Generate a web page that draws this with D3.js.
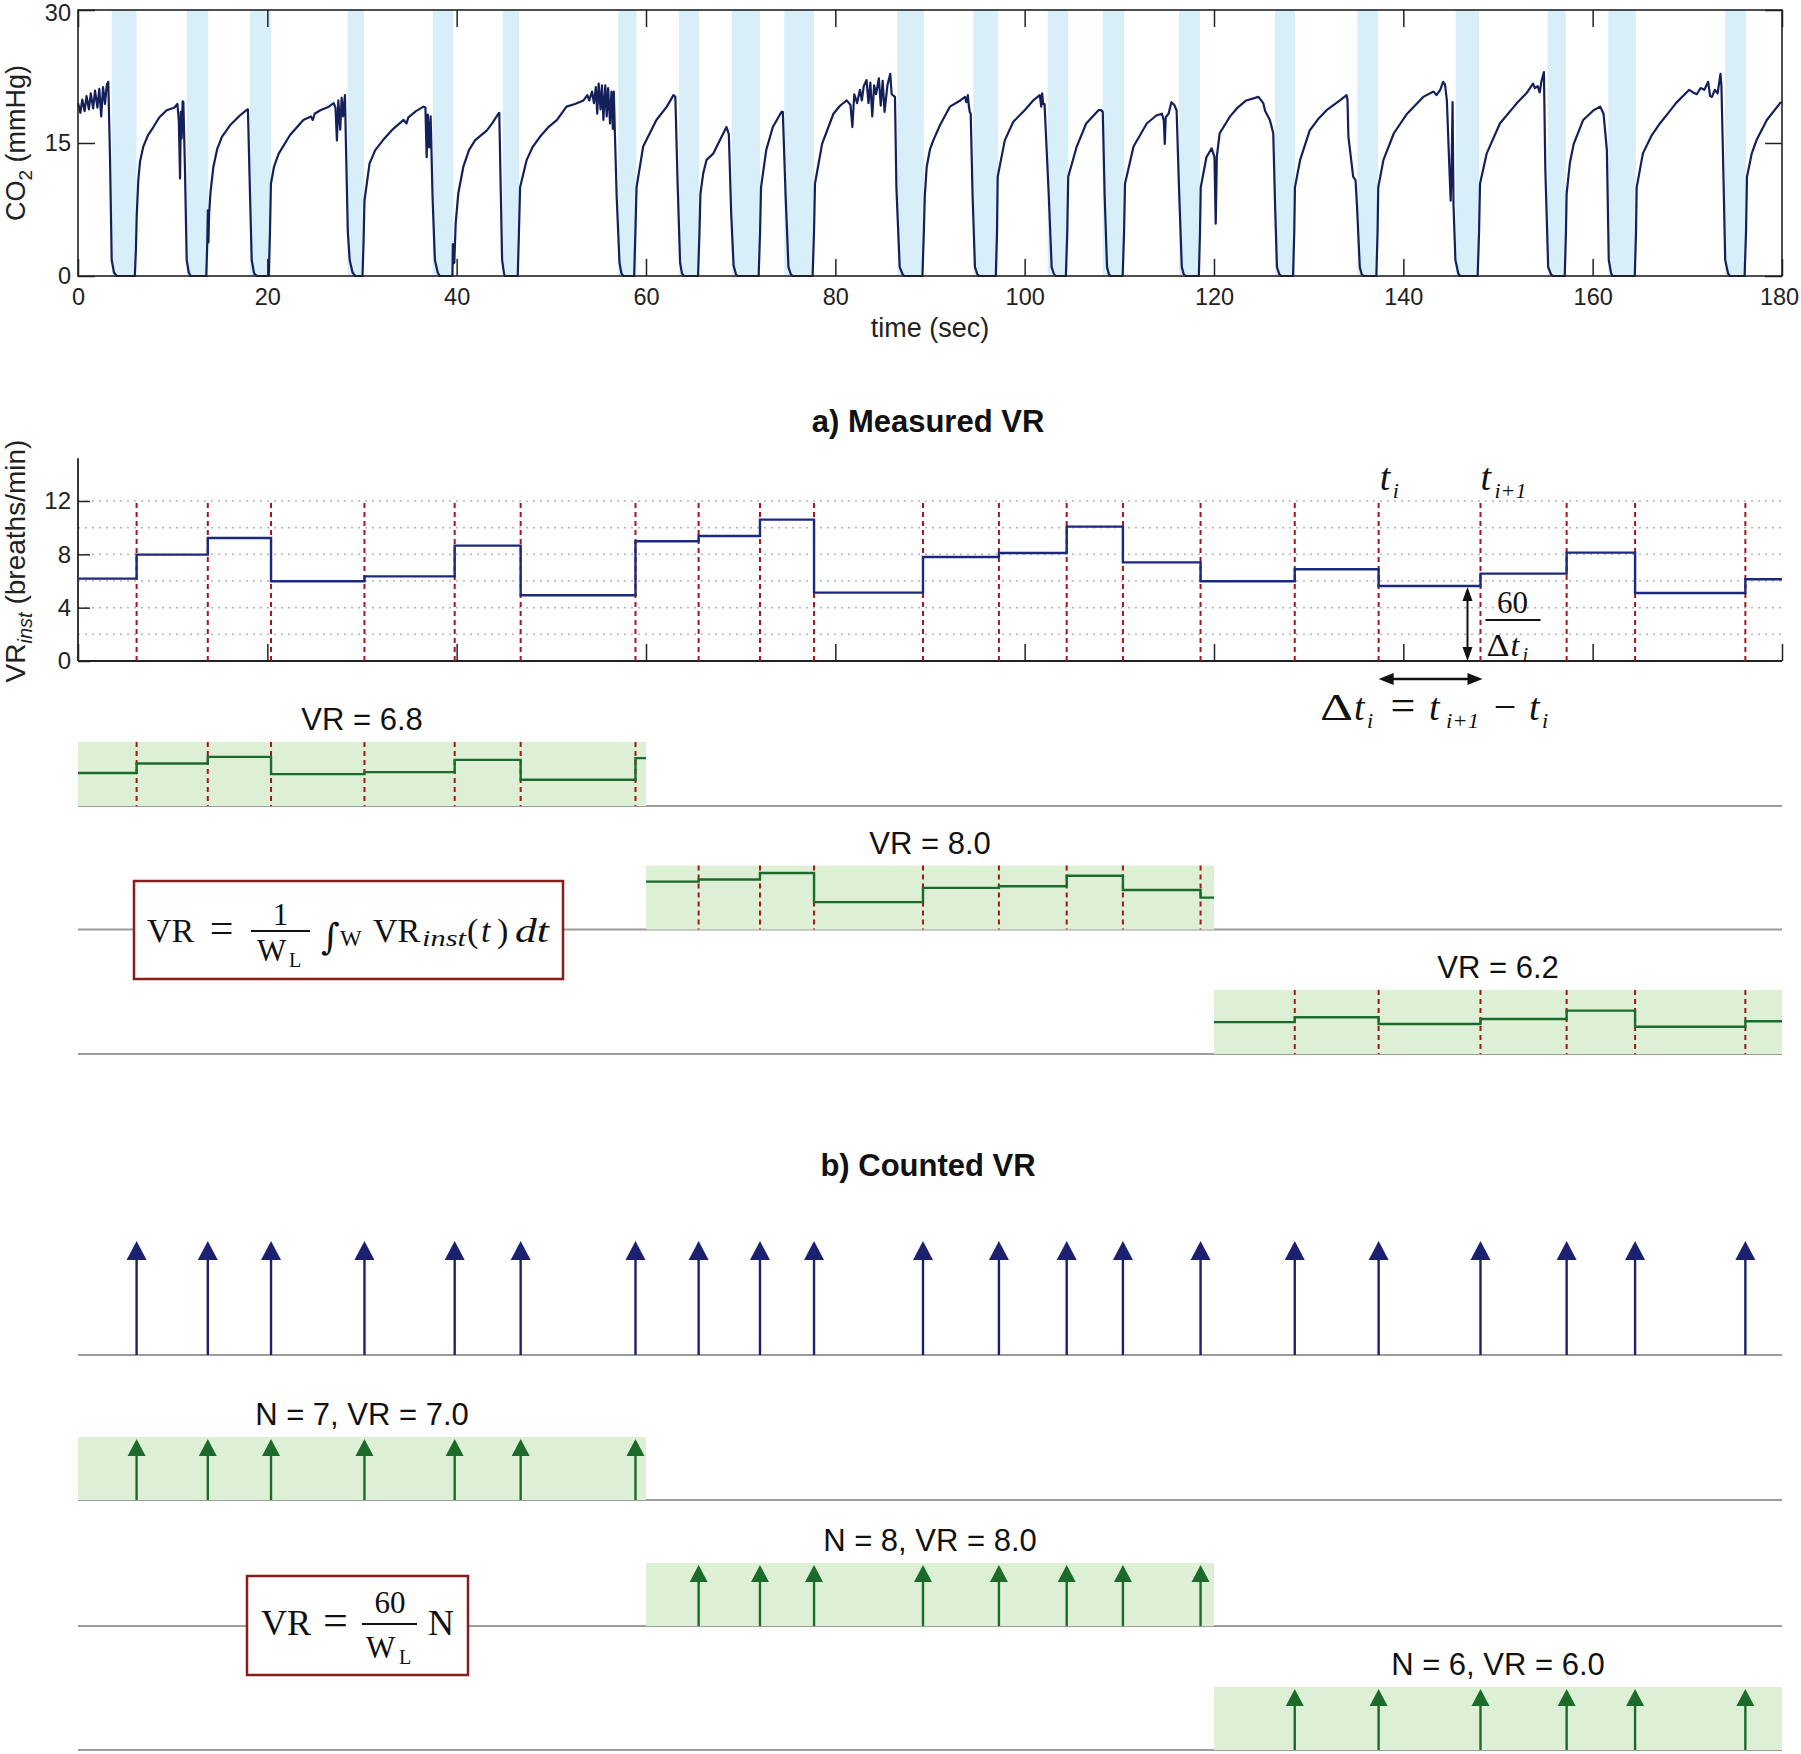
<!DOCTYPE html>
<html>
<head>
<meta charset="utf-8">
<script src="https://cdn.jsdelivr.net/npm/d3@7"></script>
<style>
  body { margin: 0; background: #fff; }
  text { font-family: "Liberation Sans", Arial, sans-serif; }
</style>
</head>
<body>
<svg id="chart"></svg>
<script>
"use strict";

// ---- data ----
var timeTicks = [0, 20, 40, 60, 80, 100, 120, 140, 160, 180];
var co2Ticks = [0, 15, 30];
var vrTicks = [0, 4, 8, 12];
var vrGrid = [2, 4, 6, 8, 10, 12];

// shaded inspiration intervals (sec)
var inspStart = [3.56, 11.48, 18.17, 28.48, 37.46, 44.86, 57.07, 63.48, 69.05, 74.61, 86.54,
                 94.57, 102.43, 108.24, 116.3, 126.44, 135.14, 145.52, 155.24, 161.65, 173.98];
var inspEnd = [6.2, 13.77, 20.39, 30.21, 39.65, 46.6, 59.0, 65.63, 72.04, 77.74, 89.36,
               97.21, 104.61, 110.52, 118.52, 128.55, 137.33, 148.02, 157.17, 164.57, 176.2];

// detected breath onsets (sec)
var breathTimes = [6.19, 13.71, 20.39, 30.26, 39.79, 46.76, 58.89, 65.56, 72.04, 77.75, 89.26,
                   97.28, 104.44, 110.38, 118.58, 128.53, 137.39, 148.15, 157.25, 164.48, 176.13];

// instantaneous VR level held from each onset (first value from t = 0)
var vrLevels = [6.18, 7.98, 9.22, 5.98, 6.35, 8.65, 4.93, 8.98, 9.38, 10.6, 5.13,
                7.8, 8.1, 10.08, 7.4, 5.98, 6.88, 5.63, 6.55, 8.13, 5.1, 6.13];

var windows = [[0, 60], [60, 120], [120, 180]];
var measuredLabels = ["VR = 6.8", "VR = 8.0", "VR = 6.2"];
var countedLabels = ["N = 7, VR = 7.0", "N = 8, VR = 8.0", "N = 6, VR = 6.0"];

// capnogram trace [time sec, CO2 mmHg]
var co2Trace = [
  [0,19.5],[0.25,18.4],[0.45,19.9],[0.7,18.6],[0.9,20.3],[1.15,18.8],[1.35,20.6],[1.6,18.9],[1.8,20.9],[2.05,19.0],
  [2.25,21.1],[2.45,18.0],[2.65,21.3],[2.85,19.4],[3.05,21.6],[3.2,21.9],[3.38,13.4],[3.56,1.8],[3.8,0.4],[4.1,0],
  [6.0,0],[6.12,3.0],[6.2,6.7],[6.37,10.8],[6.55,12.9],[6.9,14.6],[7.4,15.9],[7.96,16.8],[8.6,17.9],[9.37,18.7],
  [10.2,19.0],[10.5,19.4],[10.65,17.5],[10.78,11.0],[10.86,18.5],[10.95,15.5],[11.05,19.7],[11.13,19.6],[11.3,12.0],
  [11.48,1.8],[11.7,0.4],[11.9,0],
  [13.55,0],[13.65,3.6],[13.72,7.4],[13.78,3.8],[13.85,7.0],[14.0,9.5],[14.3,12.3],[14.7,14.3],[15.2,15.7],[16.06,17.0],
  [17.1,18.1],[17.8,18.7],[17.95,18.8],[18.15,10.0],[18.35,1.8],[18.6,0.3],[18.9,0],
  [20.15,0],[20.28,5.0],[20.38,10.4],[20.7,12.3],[21.2,13.8],[22.4,15.9],[23.8,17.6],[24.6,18.0],[24.8,17.6],[25.0,18.3],
  [25.6,18.7],[26.5,19.1],[27.0,19.5],[27.2,19.0],[27.35,15.3],[27.5,19.8],[27.7,16.5],[27.85,20.1],[28.0,18.0],
  [28.2,20.4],[28.3,15.0],[28.5,5.0],[28.7,1.8],[29.0,0.4],[29.3,0],
  [30.05,0],[30.17,4.0],[30.26,8.5],[30.8,12.7],[31.4,14.2],[32.2,15.3],[33.3,16.6],[34.4,17.6],[34.7,17.2],[34.9,17.9],
  [35.7,18.6],[36.5,19.1],[36.7,19.0],[36.83,13.4],[36.95,18.2],[37.1,14.5],[37.25,18.0],[37.45,9.0],[37.7,1.8],
  [38.0,0.4],[38.2,0],
  [39.55,0],[39.6,3.6],[39.65,1.4],[39.7,3.2],[39.75,1.5],[39.9,6.0],[40.17,9.3],[40.7,12.3],[41.3,14.2],[41.94,15.3],
  [42.5,15.8],[43.17,16.4],[43.8,17.3],[44.4,18.3],[44.5,18.4],[44.65,10.0],[44.8,1.8],[45.0,0.3],[45.1,0],
  [46.45,0],[46.58,5.0],[46.7,10.0],[47.4,13.1],[48.0,14.5],[48.8,15.7],[49.7,16.8],[50.6,17.6],[51.6,19.1],[52.5,19.4],
  [53.4,19.8],[53.8,20.4],[54.0,19.8],[54.3,20.8],[54.5,19.5],[54.7,21.3],[54.85,18.3],[55.0,21.7],[55.2,18.8],
  [55.35,21.5],[55.5,17.6],[55.7,21.5],[55.85,18.0],[56.0,21.2],[56.2,17.2],[56.35,20.8],[56.5,16.6],[56.6,20.8],
  [56.7,16.6],[56.9,9.0],[57.2,1.5],[57.4,0.3],[57.6,0],
  [58.75,0],[58.88,5.0],[59.0,10.0],[59.7,14.6],[60.4,16.1],[61.1,17.6],[62.2,19.1],[62.9,20.4],[63.1,20.2],
  [63.35,10.0],[63.6,1.5],[63.8,0.3],[64.0,0],
  [65.5,0],[65.65,5.0],[65.75,9.3],[66.05,11.6],[66.4,13.1],[67.1,13.8],[67.8,15.3],[68.5,16.8],[68.75,16.0],
  [69.0,7.0],[69.25,1.2],[69.5,0.2],[69.7,0],
  [71.9,0],[72.05,5.0],[72.15,10.0],[72.7,14.2],[73.4,16.8],[74.3,18.5],[74.45,18.5],[74.75,9.0],[75.05,1.0],
  [75.3,0.2],[75.5,0],
  [77.6,0],[77.75,5.0],[77.85,10.4],[78.6,14.9],[79.8,18.3],[80.5,19.2],[81.2,19.8],[81.6,19.3],[81.8,16.8],[82.0,20.5],
  [82.3,19.5],[82.6,21.0],[82.8,19.8],[83.0,21.4],[83.3,22.1],[83.5,19.5],[83.7,21.8],[83.9,18.0],[84.1,21.5],
  [84.3,20.5],[84.6,22.3],[84.8,19.2],[85.0,22.0],[85.2,18.5],[85.5,21.5],[85.8,22.8],[85.95,20.5],[86.3,20.2],
  [86.45,10.0],[86.8,1.0],[87.1,0.2],[87.3,0],
  [89.2,0],[89.35,5.0],[89.45,9.0],[89.65,12.3],[90.0,14.3],[90.35,15.3],[91.05,17.0],[92.1,19.1],[93.2,19.8],
  [93.7,20.2],[93.85,19.6],[94.0,20.4],[94.1,19.2],[94.2,18.5],[94.3,18.3],[94.5,9.0],[94.75,1.0],[95.0,0.2],[95.2,0],
  [96.95,0],[97.08,5.0],[97.15,11.2],[97.9,15.3],[98.8,17.4],[100.0,18.7],[100.9,19.8],[101.6,20.4],[101.75,19.1],
  [101.85,20.6],[101.95,19.4],[102.1,19.4],[102.55,9.0],[102.85,1.0],[103.1,0.2],[103.3,0],
  [104.35,0],[104.5,5.0],[104.6,11.2],[105.5,14.6],[106.5,17.2],[107.8,18.7],[108.1,18.7],[108.25,18.5],[108.45,9.0],
  [108.7,1.0],[108.9,0.2],[109.1,0],
  [110.35,0],[110.5,5.0],[110.6,10.4],[111.5,14.6],[112.9,17.2],[113.9,18.1],[114.5,18.3],[114.7,17.5],[114.8,14.9],
  [114.9,17.9],[115.2,18.3],[115.5,19.6],[115.8,19.3],[116.05,18.7],[116.3,10.0],[116.6,1.0],[116.8,0.2],[117.0,0],
  [118.4,0],[118.52,5.0],[118.6,10.0],[119.2,13.4],[119.75,14.4],[120.05,13.4],[120.18,5.9],[120.3,13.5],[120.6,16.1],
  [121.7,18.0],[122.5,19.0],[123.4,19.8],[124.7,20.2],[125.2,19.5],[125.4,18.6],[125.56,18.3],[125.9,17.6],
  [126.26,16.1],[126.45,8.0],[126.65,1.0],[126.9,0.2],[127.1,0],
  [128.35,0],[128.48,5.0],[128.55,10.0],[129.1,13.1],[130.1,16.4],[131.0,17.7],[131.9,18.7],[133.3,19.8],[134.0,20.4],
  [134.1,19.9],[134.2,15.7],[134.5,13.0],[134.7,11.2],[134.95,10.8],[135.1,8.0],[135.4,1.0],[135.6,0.2],[135.8,0],
  [137.15,0],[137.28,5.0],[137.35,10.0],[137.9,13.1],[139.0,16.1],[140.4,18.3],[142.1,20.2],[143.2,20.8],[143.5,20.4],
  [143.9,21.0],[144.2,21.9],[144.4,21.6],[144.6,19.8],[144.8,14.0],[145.0,8.5],[145.1,12.0],[145.2,19.6],[145.3,8.0],
  [145.5,1.8],[145.8,0.3],[146.0,0],
  [147.85,0],[148.0,5.0],[148.1,10.4],[148.8,13.8],[150.2,17.2],[152.0,19.5],[153.0,20.6],[153.7,21.7],[153.9,21.2],
  [154.2,21.4],[154.4,20.7],[154.6,22.0],[154.85,23.0],[155.0,12.0],[155.3,1.0],[155.6,0.2],[155.8,0],
  [157.05,0],[157.18,5.0],[157.25,9.3],[157.6,12.8],[158.0,14.9],[159.0,17.6],[160.1,18.7],[160.8,19.1],[161.15,18.3],
  [161.5,14.2],[161.7,1.8],[161.95,0.3],[162.1,0],
  [164.45,0],[164.58,5.0],[164.65,10.0],[165.3,13.8],[166.2,15.8],[167.1,17.2],[168.0,18.4],[168.8,19.5],[170.2,21.0],
  [170.6,20.7],[171.0,20.5],[171.4,21.2],[171.8,21.0],[172.2,21.9],[172.4,20.3],[172.6,20.2],[172.9,21.0],[173.2,20.6],
  [173.5,22.8],[173.6,21.5],[173.8,12.0],[174.0,1.8],[174.3,0.3],[174.5,0],
  [176.05,0],[176.2,5.0],[176.3,11.2],[176.8,13.8],[177.3,15.3],[178.4,17.6],[179.8,19.5],[180,19.6]
];

// ---- colours ----
var navy = "#14205a";
var stepBlue = "#1c2a7e";
var arrowNavy = "#1b2170";
var red = "#a3161c";
var bandBlue = "#d8effa";
var bandGreen = "#ddf0d6";
var green = "#1c6b2b";
var grey = "#9c9c9c";
var boxRed = "#8b1c1c";
var serifFont = "'Liberation Serif','DejaVu Serif',serif";

var width = 1801, height = 1754;
var svg = d3.select("#chart").attr("width", width).attr("height", height);

var x = d3.scaleLinear().domain([0, 180]).range([78, 1782]);

function levelAt(t) {
    var idx = d3.bisectRight(breathTimes, t);
    return vrLevels[idx];
}

function styleAxis(g, size) {
    g.select(".domain").remove();
    g.selectAll(".tick line").attr("stroke", "#222").attr("stroke-width", 1.5);
    g.selectAll(".tick text").attr("font-size", size).attr("fill", "#222")
        .attr("font-family", "'Liberation Sans', Arial, sans-serif");
}

// one piece of serif maths text
function piece(g, str, px, py, size, opts) {
    opts = opts || {};
    var t = g.append("text")
        .attr("x", px).attr("y", py)
        .attr("font-size", size).attr("fill", "#111")
        .style("font-family", opts.font || serifFont)
        .text(str);
    if (opts.italic) t.attr("font-style", "italic");
    if (opts.anchor) t.attr("text-anchor", opts.anchor);
    if (opts.len) t.attr("textLength", opts.len).attr("lengthAdjust", "spacingAndGlyphs");
    return t;
}

// =========== top: capnogram ===========
var yCO2 = d3.scaleLinear().domain([0, 30]).range([276, 10]);
var topG = svg.append("g");

topG.selectAll("rect.insp")
    .data(d3.zip(inspStart, inspEnd))
    .join("rect")
    .attr("class", "insp")
    .attr("x", function(d) { return x(d[0]); })
    .attr("y", yCO2(30))
    .attr("width", function(d) { return x(d[1]) - x(d[0]); })
    .attr("height", yCO2(0) - yCO2(30))
    .attr("fill", bandBlue);

topG.append("path")
    .datum(co2Trace)
    .attr("d", d3.line().x(function(d) { return x(d[0]); }).y(function(d) { return yCO2(d[1]); }))
    .attr("fill", "none")
    .attr("stroke", navy)
    .attr("stroke-width", 2.2)
    .attr("stroke-linejoin", "round");

var xAxisTop = topG.append("g").attr("transform", "translate(0," + yCO2(0) + ")")
    .call(d3.axisBottom(x).tickValues(timeTicks).tickSize(-17).tickPadding(12))
    .call(styleAxis, 23.5);
xAxisTop.selectAll(".tick text").filter(function(d) { return d === 180; }).attr("dx", -3);

topG.append("g").attr("transform", "translate(0," + yCO2(30) + ")")
    .call(d3.axisTop(x).tickValues(timeTicks).tickSize(-17).tickFormat(""))
    .call(styleAxis, 24);
var yAxisTop = topG.append("g").attr("transform", "translate(" + x(0) + ",0)")
    .call(d3.axisLeft(yCO2).tickValues(co2Ticks).tickSize(-17).tickPadding(7))
    .call(styleAxis, 23.5);
yAxisTop.selectAll(".tick text").filter(function(d) { return d === 30; }).attr("dy", "0.45em");

topG.append("g").attr("transform", "translate(" + x(180) + ",0)")
    .call(d3.axisRight(yCO2).tickValues(co2Ticks).tickSize(-17).tickFormat(""))
    .call(styleAxis, 24);

topG.append("rect")
    .attr("x", x(0)).attr("y", yCO2(30))
    .attr("width", x(180) - x(0)).attr("height", yCO2(0) - yCO2(30))
    .attr("fill", "none").attr("stroke", "#222").attr("stroke-width", 1.6);

topG.append("text")
    .attr("x", 930).attr("y", 337)
    .attr("text-anchor", "middle").attr("font-size", 27).attr("fill", "#222")
    .text("time (sec)");

var co2Label = topG.append("text")
    .attr("transform", "translate(25," + yCO2(15) + ") rotate(-90)")
    .attr("text-anchor", "middle").attr("font-size", 27).attr("fill", "#222");
co2Label.append("tspan").text("CO");
co2Label.append("tspan").attr("dy", 7).attr("font-size", 19).text("2");
co2Label.append("tspan").attr("dy", -7).text(" (mmHg)");

// =========== a) measured VR ===========
svg.append("text")
    .attr("x", 928).attr("y", 432)
    .attr("text-anchor", "middle").attr("font-size", 31).attr("font-weight", "bold").attr("fill", "#111")
    .text("a) Measured VR");

var yVR = d3.scaleLinear().domain([0, 15]).range([661, 461]);
var vrG = svg.append("g");

vrG.selectAll("line.grid")
    .data(vrGrid)
    .join("line")
    .attr("class", "grid")
    .attr("x1", x(0)).attr("x2", x(180))
    .attr("y1", function(d) { return yVR(d); }).attr("y2", function(d) { return yVR(d); })
    .attr("stroke", "#b4b4b4").attr("stroke-width", 1.5).attr("stroke-dasharray", "2,5");

vrG.append("g").attr("transform", "translate(0," + yVR(0) + ")")
    .call(d3.axisBottom(x).tickValues(timeTicks).tickSize(-17).tickFormat(""))
    .call(styleAxis, 24);
vrG.append("line")
    .attr("x1", x(0)).attr("x2", x(180)).attr("y1", yVR(0)).attr("y2", yVR(0))
    .attr("stroke", "#222").attr("stroke-width", 1.8);
vrG.append("g").attr("transform", "translate(" + x(0) + ",0)")
    .call(d3.axisLeft(yVR).tickValues(vrTicks).tickSize(-12).tickPadding(7))
    .call(styleAxis, 24);
vrG.append("line")
    .attr("x1", x(0)).attr("x2", x(0)).attr("y1", yVR(0)).attr("y2", yVR(15.2))
    .attr("stroke", "#222").attr("stroke-width", 1.8);

vrG.selectAll("line.breath")
    .data(breathTimes)
    .join("line")
    .attr("class", "breath")
    .attr("x1", function(d) { return x(d); }).attr("x2", function(d) { return x(d); })
    .attr("y1", yVR(0)).attr("y2", yVR(12))
    .attr("stroke", red).attr("stroke-width", 2).attr("stroke-dasharray", "5,4");

var stepData = [[0, vrLevels[0]]];
breathTimes.forEach(function(t, i) { stepData.push([t, vrLevels[i + 1]]); });
stepData.push([180, vrLevels[vrLevels.length - 1]]);

vrG.append("path")
    .datum(stepData)
    .attr("d", d3.line().curve(d3.curveStepAfter)
        .x(function(d) { return x(d[0]); }).y(function(d) { return yVR(d[1]); }))
    .attr("fill", "none").attr("stroke", stepBlue).attr("stroke-width", 2.4);

var vrLabel = vrG.append("text")
    .attr("transform", "translate(25," + yVR(7.5) + ") rotate(-90)")
    .attr("text-anchor", "middle").attr("font-size", 28).attr("fill", "#222");
vrLabel.append("tspan").text("VR");
vrLabel.append("tspan").attr("dy", 7).attr("font-size", 20).attr("font-style", "italic").text("inst");
vrLabel.append("tspan").attr("dy", -7).text(" (breaths/min)");

// annotation of one interval
var ti = breathTimes[16], ti1 = breathTimes[17];
var ann = vrG.append("g");

piece(ann, "t", x(ti) + 1, 490, 38, { italic: true });
piece(ann, "i", x(ti) + 14, 498, 22, { italic: true });
piece(ann, "t", x(ti1), 490, 38, { italic: true });
piece(ann, "i+1", x(ti1) + 14, 498, 21, { italic: true, len: 32 });

function doubleArrowV(g, px, y1, y2) {
    g.append("line").attr("x1", px).attr("x2", px).attr("y1", y1 + 10).attr("y2", y2 - 10)
        .attr("stroke", "#111").attr("stroke-width", 2);
    g.append("path").attr("d", "M" + px + "," + y1 + "l-5,14l10,0z").attr("fill", "#111");
    g.append("path").attr("d", "M" + px + "," + y2 + "l-5,-14l10,0z").attr("fill", "#111");
}
function doubleArrowH(g, x1, x2, py) {
    g.append("line").attr("x1", x1 + 10).attr("x2", x2 - 10).attr("y1", py).attr("y2", py)
        .attr("stroke", "#111").attr("stroke-width", 2.4);
    g.append("path").attr("d", "M" + x1 + "," + py + "l15,-6l0,12z").attr("fill", "#111");
    g.append("path").attr("d", "M" + x2 + "," + py + "l-15,-6l0,12z").attr("fill", "#111");
}

var arrX = x(ti1) - 13;
doubleArrowV(ann, arrX, yVR(vrLevels[17]) + 1, yVR(0));
doubleArrowH(ann, x(ti), x(ti1) + 2, 679);

piece(ann, "60", arrX + 45, 613, 31, { anchor: "middle" });
ann.append("line").attr("x1", arrX + 18).attr("x2", arrX + 73).attr("y1", 620).attr("y2", 620)
    .attr("stroke", "#111").attr("stroke-width", 2);
piece(ann, "Δ", arrX + 19, 656, 32, { len: 23 });
piece(ann, "t", arrX + 43, 656, 32, { italic: true });
piece(ann, "i", arrX + 55, 662, 20, { italic: true });

// Δt_i = t_{i+1} − t_i
piece(ann, "Δ", 1320, 720, 38, { len: 33 });
piece(ann, "t", 1354, 720, 38, { italic: true });
piece(ann, "i", 1367, 728, 22, { italic: true });
piece(ann, "=", 1403, 720, 44, { anchor: "middle" });
piece(ann, "t", 1429, 720, 38, { italic: true });
piece(ann, "i+1", 1446, 728, 21, { italic: true, len: 33 });
piece(ann, "−", 1505, 720, 40, { anchor: "middle" });
piece(ann, "t", 1529, 720, 38, { italic: true });
piece(ann, "i", 1542, 728, 22, { italic: true });

// window rows for the measured VR
var measBase = [806, 929.5, 1054];
measBase.forEach(function(base, i) {
    var w = windows[i];
    var topY = base - 64;
    var yb = d3.scaleLinear().domain([0, 12]).range([base, topY]);
    var g = svg.append("g");

    g.append("line").attr("x1", x(0)).attr("x2", x(180)).attr("y1", base).attr("y2", base)
        .attr("stroke", grey).attr("stroke-width", 2);
    g.append("rect").attr("x", x(w[0])).attr("y", topY)
        .attr("width", x(w[1]) - x(w[0])).attr("height", base - topY)
        .attr("fill", bandGreen);

    var inWin = breathTimes.filter(function(t) { return t > w[0] && t < w[1]; });
    g.selectAll("line.breath").data(inWin).join("line")
        .attr("class", "breath")
        .attr("x1", function(d) { return x(d); }).attr("x2", function(d) { return x(d); })
        .attr("y1", topY).attr("y2", base)
        .attr("stroke", red).attr("stroke-width", 2).attr("stroke-dasharray", "5,4");

    var pts = [[w[0], levelAt(w[0])]];
    inWin.forEach(function(t) { pts.push([t, levelAt(t)]); });
    pts.push([w[1], levelAt(inWin[inWin.length - 1])]);
    g.append("path").datum(pts)
        .attr("d", d3.line().curve(d3.curveStepAfter)
            .x(function(d) { return x(d[0]); }).y(function(d) { return yb(d[1]); }))
        .attr("fill", "none").attr("stroke", green).attr("stroke-width", 2.4);

    g.append("text").attr("x", x((w[0] + w[1]) / 2)).attr("y", topY - 12)
        .attr("text-anchor", "middle").attr("font-size", 31).attr("fill", "#111")
        .text(measuredLabels[i]);
});

// formula box: integral
var f1 = svg.append("g");
f1.append("rect").attr("x", 134).attr("y", 881).attr("width", 429).attr("height", 98)
    .attr("fill", "#fff").attr("stroke", boxRed).attr("stroke-width", 2.5);
piece(f1, "VR", 147, 942, 34);
piece(f1, "=", 221.5, 942, 42, { anchor: "middle" });
piece(f1, "1", 280.5, 925, 31, { anchor: "middle" });
f1.append("line").attr("x1", 251).attr("x2", 310).attr("y1", 931).attr("y2", 931)
    .attr("stroke", "#111").attr("stroke-width", 2);
piece(f1, "W", 257, 961, 31);
piece(f1, "L", 289, 967, 20);
piece(f1, "∫", 321, 949, 36, { font: "'DejaVu Serif',serif" });
piece(f1, "W", 340, 946, 23);
piece(f1, "VR", 373, 942, 34);
piece(f1, "inst", 422, 946, 24, { italic: true, len: 44 });
piece(f1, "(", 467, 942, 34);
piece(f1, "t", 481, 942, 34, { italic: true });
piece(f1, ")", 497, 942, 34);
piece(f1, "dt", 515, 942, 34, { italic: true, len: 34 });

// =========== b) counted VR ===========
svg.append("text")
    .attr("x", 928).attr("y", 1176)
    .attr("text-anchor", "middle").attr("font-size", 31).attr("font-weight", "bold").attr("fill", "#111")
    .text("b) Counted VR");

function drawArrows(g, times, base, tip, headH, headW, color) {
    g.selectAll("line.stem").data(times).join("line")
        .attr("class", "stem")
        .attr("x1", function(d) { return x(d); }).attr("x2", function(d) { return x(d); })
        .attr("y1", base).attr("y2", tip + headH - 2)
        .attr("stroke", color).attr("stroke-width", 2.4);
    g.selectAll("path.head").data(times).join("path")
        .attr("class", "head")
        .attr("d", function(d) {
            return "M" + x(d) + "," + tip + "l" + (-headW / 2) + "," + headH + "l" + headW + ",0z";
        })
        .attr("fill", color);
}

var cG = svg.append("g");
cG.append("line").attr("x1", x(0)).attr("x2", x(180)).attr("y1", 1355).attr("y2", 1355)
    .attr("stroke", grey).attr("stroke-width", 2);
drawArrows(cG, breathTimes, 1355, 1241, 19, 20, arrowNavy);

var countBase = [1500, 1626, 1750];
countBase.forEach(function(base, i) {
    var w = windows[i];
    var topY = base - 63;
    var g = svg.append("g");
    g.append("line").attr("x1", x(0)).attr("x2", x(180)).attr("y1", base).attr("y2", base)
        .attr("stroke", grey).attr("stroke-width", 2);
    g.append("rect").attr("x", x(w[0])).attr("y", topY)
        .attr("width", x(w[1]) - x(w[0])).attr("height", base - topY)
        .attr("fill", bandGreen);
    var inWin = breathTimes.filter(function(t) { return t > w[0] && t < w[1]; });
    drawArrows(g, inWin, base, topY + 2, 17, 18, green);
    g.append("text").attr("x", x((w[0] + w[1]) / 2)).attr("y", topY - 12)
        .attr("text-anchor", "middle").attr("font-size", 31).attr("fill", "#111")
        .text(countedLabels[i]);
});

// formula box: counting
var f2 = svg.append("g");
f2.append("rect").attr("x", 247).attr("y", 1576).attr("width", 221).attr("height", 99)
    .attr("fill", "#fff").attr("stroke", boxRed).attr("stroke-width", 2.5);
piece(f2, "VR", 261, 1635, 36);
piece(f2, "=", 335.5, 1635, 44, { anchor: "middle" });
piece(f2, "60", 390, 1613, 31, { anchor: "middle" });
f2.append("line").attr("x1", 362).attr("x2", 417).attr("y1", 1624).attr("y2", 1624)
    .attr("stroke", "#111").attr("stroke-width", 2);
piece(f2, "W", 366, 1658, 31);
piece(f2, "L", 399, 1664, 20);
piece(f2, "N", 428, 1635, 36);
</script>
</body>
</html>
